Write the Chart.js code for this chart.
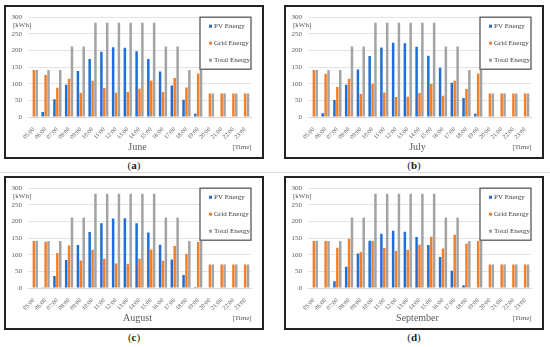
<!DOCTYPE html>
<html>
<head>
<meta charset="utf-8">
<script src="https://cdn.jsdelivr.net/npm/chart.js@4"></script>
<style>
  body { margin: 0; background: #fff; width: 550px; height: 347px; position: relative; overflow: hidden; font-family: "Liberation Serif", serif; }
  .box { position: absolute; width: 260px; height: 154px; border: 2px solid #222; box-sizing: border-box; background: #fff; }
  .cap { position: absolute; width: 40px; text-align: center; font-size: 11px; color: #222; }
  .sep { position: absolute; left: 0; width: 550px; height: 1px; background: #ddd; }
</style>
</head>
<body>
<div class="box" style="left:4px;top:5px"><canvas id="june" width="256" height="150"></canvas></div>
<div class="box" style="left:284px;top:5px"><canvas id="july" width="256" height="150"></canvas></div>
<div class="box" style="left:4px;top:176px"><canvas id="august" width="256" height="150"></canvas></div>
<div class="box" style="left:284px;top:176px"><canvas id="september" width="256" height="150"></canvas></div>
<div class="cap" style="left:114px;top:159px">(<b>a</b>)</div>
<div class="cap" style="left:394px;top:159px">(<b>b</b>)</div>
<div class="sep" style="top:172px"></div>
<div class="cap" style="left:114px;top:331px">(<b>c</b>)</div>
<div class="cap" style="left:394px;top:331px">(<b>d</b>)</div>
<script>
const hours = ['05:00', '06:00', '07:00', '08:00', '09:00', '10:00', '11:00', '12:00', '13:00', '14:00',
  '15:00', '16:00', '17:00', '18:00', '19:00', '20:00', '21:00', '22:00', '23:00'];
const yTicks = [0, 50, 100, 150, 200, 250, 300];

const junePV = [0, 15, 53, 97, 138, 174, 196, 210, 208, 198, 174, 137, 95, 52, 10, 0, 0, 0, 0];
const juneGrid = [141, 126, 88, 115, 73, 109, 87, 73, 75, 85, 109, 75, 117, 89, 131, 71, 71, 71, 71];
const juneTotal = [141, 141, 141, 212, 212, 283, 283, 283, 283, 283, 283, 212, 212, 141, 141, 71, 71, 71, 71];

const julyPV = [0, 11, 51, 97, 143, 183, 209, 223, 222, 211, 184, 148, 103, 57, 10, 0, 0, 0, 0];
const julyGrid = [141, 130, 90, 115, 69, 100, 74, 60, 61, 72, 99, 64, 109, 84, 131, 71, 71, 71, 71];
const julyTotal = [141, 141, 141, 212, 212, 283, 283, 283, 283, 283, 283, 212, 212, 141, 141, 71, 71, 71, 71];

const augustPV = [0, 2, 36, 84, 129, 168, 195, 209, 210, 195, 167, 130, 86, 39, 3, 0, 0, 0, 0];
const augustGrid = [141, 139, 105, 128, 83, 115, 88, 74, 73, 88, 116, 82, 126, 102, 138, 71, 71, 71, 71];
const augustTotal = [141, 141, 141, 212, 212, 283, 283, 283, 283, 283, 283, 212, 212, 141, 141, 71, 71, 71, 71];

const septPV = [0, 0, 20, 64, 104, 142, 163, 172, 169, 153, 129, 93, 52, 8, 0, 0, 0, 0, 0];
const septGrid = [141, 141, 121, 148, 108, 141, 120, 111, 114, 130, 154, 119, 160, 133, 141, 71, 71, 71, 71];
const septTotal = [141, 141, 141, 212, 212, 283, 283, 283, 283, 283, 283, 212, 212, 141, 141, 71, 71, 71, 71];

const seriesNames = ['PV Energy', 'Grid Energy', 'Total Energy'];
const seriesColors = ['#1f6fd6', '#f47f2a', '#a3a3a3'];
const serif = '"Liberation Serif", serif';
const textGray = '#595959';

// legend box + axis notes, drawn on top of the bars
const notesPlugin = {
  id: 'notes',
  afterDraw(chart, args, opts) {
    const ctx = chart.ctx;
    const a = chart.chartArea;
    ctx.save();
    ctx.font = '7px ' + serif;
    ctx.fillStyle = textGray;
    ctx.textAlign = 'left';
    ctx.textBaseline = 'middle';
    ctx.fillText('[kWh]', 7, chart.scales.y.getPixelForValue(275));

    ctx.font = '10px ' + serif;
    ctx.textAlign = 'center';
    ctx.fillText(opts.month, (a.left + a.right) / 2 - 2, a.bottom + 30);
    ctx.font = '7px ' + serif;
    ctx.fillText('[Time]', a.right - 9, a.bottom + 30);

    // legend
    const w = 51, h = 52;
    const x0 = a.right - w, y0 = a.top;
    ctx.fillStyle = '#fff';
    ctx.fillRect(x0, y0, w, h);
    ctx.strokeStyle = '#595959';
    ctx.lineWidth = 1.3;
    ctx.strokeRect(x0, y0, w, h);
    ctx.font = '7px ' + serif;
    ctx.textAlign = 'left';
    chart.data.datasets.forEach((ds, i) => {
      const yy = y0 + 9 + i * 17;
      ctx.fillStyle = ds.backgroundColor;
      ctx.fillRect(x0 + 9, yy - 1.5, 3, 3);
      ctx.fillStyle = '#404040';
      ctx.fillText(ds.label, x0 + 14, yy);
    });
    ctx.restore();
  }
};

function makePanel(id, month, pv, grid, total) {
  const values = [pv, grid, total];
  new Chart(document.getElementById(id), {
    type: 'bar',
    data: {
      labels: hours,
      datasets: seriesNames.map((name, i) => ({
        label: name,
        data: values[i],
        backgroundColor: seriesColors[i],
        categoryPercentage: 0.74,
        barPercentage: 0.86
      }))
    },
    options: {
      responsive: false,
      animation: false,
      layout: { padding: { left: 0, right: 11, top: 3, bottom: 0 } },
      plugins: {
        legend: { display: false },
        tooltip: { enabled: false },
        notes: { month: month }
      },
      scales: {
        x: {
          grid: { display: false },
          border: { display: true, color: '#d9d9d9' },
          ticks: { font: { family: serif, size: 6 }, color: textGray, maxRotation: 45, minRotation: 45, padding: 1, autoSkip: false },
          afterFit: s => { s.height = 40; }
        },
        y: {
          min: 0,
          max: 300,
          afterBuildTicks: s => { s.ticks = yTicks.map(v => ({ value: v })); },
          grid: { color: '#e3e3e3', drawTicks: false },
          border: { display: false },
          ticks: { font: { family: serif, size: 7 }, color: textGray, padding: 6 },
          afterFit: s => { s.width = 22; }
        }
      }
    },
    plugins: [notesPlugin]
  });
}

makePanel('june', 'June', junePV, juneGrid, juneTotal);
makePanel('july', 'July', julyPV, julyGrid, julyTotal);
makePanel('august', 'August', augustPV, augustGrid, augustTotal);
makePanel('september', 'September', septPV, septGrid, septTotal);
</script>
</body>
</html>
